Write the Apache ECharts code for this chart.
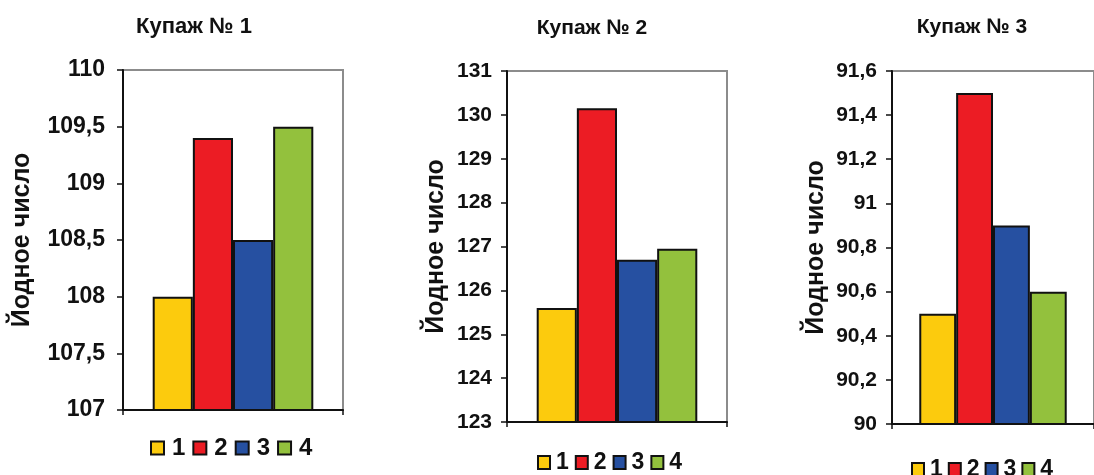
<!DOCTYPE html>
<html>
<head>
<meta charset="utf-8">
<script src="https://cdn.jsdelivr.net/npm/echarts@6/dist/echarts.min.js"></script>
<style>
  html, body { margin: 0; padding: 0; background: #fff; }
  #chart { width: 1094px; height: 475px; }
</style>
</head>
<body>
<div id="chart"></div>
<script>
// ---- Data ----
const categories = ['1', '2', '3', '4'];
const titles = ['Купаж № 1', 'Купаж № 2', 'Купаж № 3'];
const yAxisTitle = 'Йодное число';
const blend1 = [108, 109.4, 108.5, 109.5];
const blend2 = [125.6, 130.15, 126.7, 126.95];
const blend3 = [90.5, 91.5, 90.9, 90.6];
const yMin = [107, 123, 90];
const yMax = [110, 131, 91.6];
const yInterval = [0.5, 1, 0.2];

// ---- Styling ----
const colors = ['#FCCB0D', '#EC1C24', '#2650A1', '#93C13D'];
const font = "'Liberation Sans', Arial, sans-serif";
const grids = [
  { left: 123, top: 70, width: 220, height: 340 },
  { left: 507, top: 71, width: 220, height: 351 },
  { left: 892, top: 71, width: 215, height: 353 }
];
const titlePos = [[194, 27], [592, 28], [972, 27]];
const titleSizes = [22, 21, 21];
const nameGaps = [88, 58, 63];
const labelSizes = [23, 21, 21];
const labelMargins = [18, 15, 15];
const legendPos = [
  { left: 150, top: 436, w: 13, h: 13, gap: 7, pad: 3, size: 24 },
  { left: 537, top: 451, w: 12, h: 13, gap: 6, pad: 1, size: 23 },
  { left: 911, top: 458, w: 12, h: 13, gap: 5, pad: 1, size: 23 }
];
const allData = [blend1, blend2, blend3];

const fmt = v => String(+Number(v).toFixed(2)).replace('.', ',');

const option = {
  animation: false,
  backgroundColor: '#fff',
  graphic: titles.map((t, c) => ({
    type: 'text',
    x: titlePos[c][0],
    y: titlePos[c][1],
    style: {
      text: t,
      textAlign: 'center',
      textVerticalAlign: 'middle',
      fontFamily: font,
      fontWeight: 'bold',
      fontSize: titleSizes[c],
      fill: '#111'
    }
  })),
  grid: grids.map(g => Object.assign({
    show: true, borderColor: '#8c8c8c', borderWidth: 2, backgroundColor: '#fff',
    containLabel: false
  }, g)),
  xAxis: grids.map((g, c) => ({
    type: 'category',
    gridIndex: c,
    data: [''],
    axisLine: { lineStyle: { color: '#111', width: 2 } },
    axisTick: { show: true, length: 5, lineStyle: { color: '#111', width: 1.5 } },
    axisLabel: { show: false }
  })),
  yAxis: grids.map((g, c) => ({
    type: 'value',
    gridIndex: c,
    min: yMin[c],
    max: yMax[c],
    interval: yInterval[c],
    name: yAxisTitle,
    nameLocation: 'middle',
    nameGap: nameGaps[c],
    nameTextStyle: {
      fontFamily: font, fontWeight: 'bold', fontSize: 25, color: '#111'
    },
    axisLine: { show: true, lineStyle: { color: '#111', width: 2 } },
    axisTick: { show: true, length: 6, lineStyle: { color: '#111', width: 1.5 } },
    splitLine: { show: false },
    axisLabel: {
      margin: labelMargins[c],
      formatter: fmt,
      fontFamily: font,
      fontSize: labelSizes[c],
      fontWeight: 'bold',
      color: '#111'
    }
  })),
  legend: legendPos.map((p, c) => ({
    data: categories,
    left: p.left,
    top: p.top,
    padding: 0,
    orient: 'horizontal',
    icon: 'rect',
    itemWidth: p.w,
    itemHeight: p.h,
    itemGap: p.gap,
    selectedMode: false,
    itemStyle: { borderColor: '#111', borderWidth: 2 },
    textStyle: {
      fontFamily: font,
      fontSize: p.size,
      fontWeight: 'bold',
      color: '#111',
      padding: [0, 0, 0, p.pad]
    }
  })),
  series: []
};

allData.forEach((vals, c) => {
  categories.forEach((name, i) => {
    option.series.push({
      type: 'bar',
      name: name,
      xAxisIndex: c,
      yAxisIndex: c,
      data: [vals[i]],
      barGap: '0%',
      barCategoryGap: '27%',
      itemStyle: { color: colors[i], borderColor: '#111', borderWidth: 2 }
    });
  });
});

const chart = echarts.init(document.getElementById('chart'), null, { renderer: 'canvas' });
chart.setOption(option);
</script>
</body>
</html>
